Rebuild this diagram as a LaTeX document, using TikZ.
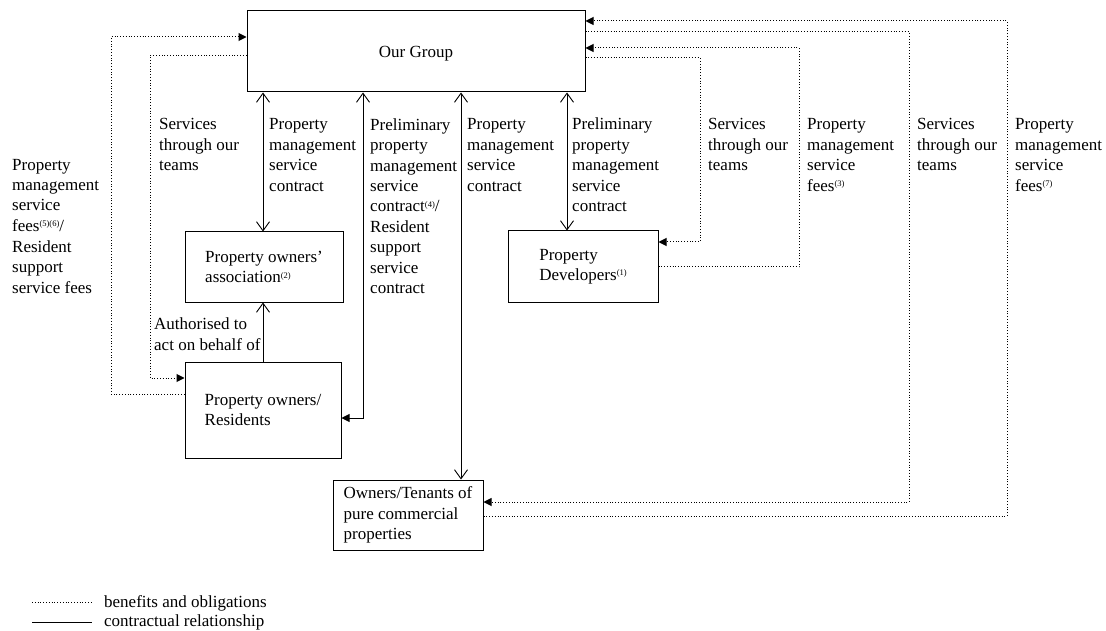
\documentclass[tikz,border=0pt]{standalone}
\usepackage{fontspec}
\setmainfont{Liberation Serif}
\usetikzlibrary{arrows.meta}
\newcommand{\sps}[1]{\raisebox{0.6ex}{\fontsize{8.5}{8.5}\selectfont #1}}
\tikzset{
  ob/.tip={Straight Barb[length=9pt,width=13pt]},
  ft/.tip={Triangle[length=8pt,width=8pt]}
}
\begin{document}
\begin{tikzpicture}[x=1pt,y=-1pt,
  every node/.style={font=\fontsize{17}{20.5}\selectfont},
  box/.style={draw, line width=1pt, align=left, inner sep=0pt},
  lbl/.style={anchor=base west, align=left, inner sep=0pt},
  con/.style={line width=0.9pt},
  dot/.style={line width=1pt, dash pattern=on 1pt off 1.8pt}]
\useasboundingbox (0,0) rectangle (1106,631);

% boxes
\node[box, minimum width=338pt, minimum height=81pt] (grp) at (416,51.5) {\raisebox{-3pt}[6pt][0pt]{Our Group}};
\node[box, minimum width=158pt, minimum height=70pt] (assoc) at (264,267) {Property owners'\\association\sps{(2)}};
\node[box, minimum width=156pt, minimum height=96pt] (res) at (263,410) {Property owners/\\Residents};
\node[box, minimum width=150pt, minimum height=71pt] (dev) at (583,266.5) {Property\\Developers\sps{(1)}};
\node[box, minimum width=150pt, minimum height=70pt] (own) at (408,515) {Owners/Tenants of\\pure commercial\\properties};

% contractual connectors
\draw[con, ob-ob] (grp.south -| 263,0) -- (assoc.north -| 263,0);
\draw[con, -ob] (res.north -| 263,0) -- (assoc.south -| 263,0);
\draw[con, ob-ft] (grp.south -| 363,0) |- (res.east |- 0,418);
\draw[con, ob-ob] (grp.south -| 461,0) -- (own.north -| 461,0);
\draw[con, ob-ob] (grp.south -| 567,0) -- (dev.north -| 567,0);

% benefits and obligations
\draw[dot, -ft] (res.west |- 0,394) -| (111,37) -- (grp.west |- 0,37);
\draw[dot, -ft] (grp.west |- 0,56) -| (150,378) -- (res.west |- 0,378);
\draw[dot, -ft] (grp.east |- 0,58) -| (700,242) -- (dev.east |- 0,242);
\draw[dot, -ft] (dev.east |- 0,267) -| (799,48) -- (grp.east |- 0,48);
\draw[dot, -ft] (grp.east |- 0,32) -| (909,502) -- (own.east |- 0,502);
\draw[dot, -ft] (own.east |- 0,516) -| (1007,21) -- (grp.east |- 0,21);

% labels (anchored at the baseline of their last line)
\node[lbl] (l1) at (12,293) {Property\\management\\service\\fees\sps{(5)(6)}/\\Resident\\support\\service fees};
\node[lbl] (l2) at (159,171) {Services\\through our\\teams};
\node[lbl] (l3) at (269,191.5) {Property\\management\\service\\contract};
\node[lbl] (l4) at (370,294) {Preliminary\\property\\management\\service\\contract\sps{(4)}/\\Resident\\support\\service\\contract};
\node[lbl] (l5) at (467,191.5) {Property\\management\\service\\contract};
\node[lbl] (l6) at (572,212) {Preliminary\\property\\management\\service\\contract};
\node[lbl] (l7) at (708,171) {Services\\through our\\teams};
\node[lbl] (l8) at (807,191.5) {Property\\management\\service\\fees\sps{(3)}};
\node[lbl] (l9) at (917,171) {Services\\through our\\teams};
\node[lbl] (l10) at (1015,191.5) {Property\\management\\service\\fees\sps{(7)}};
\node[lbl] (l11) at (154,350) {Authorised to\\act on behalf of};

% legend
\coordinate (ld1) at (32,602);
\coordinate (ld2) at (92,602);
\coordinate (ls1) at (32,622);
\coordinate (ls2) at (92,622);
\draw[dot] (ld1) -- (ld2);
\draw[con] (ls1) -- (ls2);
\node[lbl] (t1) at (104,607.5) {benefits and obligations};
\node[lbl] (t2) at (104,626.5) {contractual relationship};
\end{tikzpicture}
\end{document}
